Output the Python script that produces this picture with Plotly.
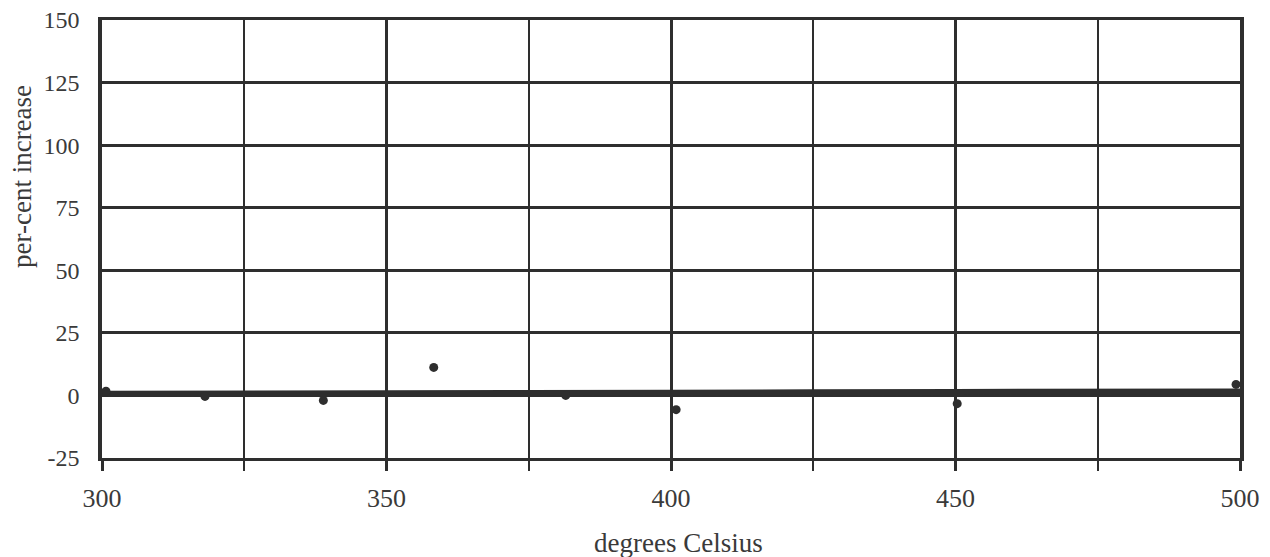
import plotly.graph_objects as go

# Data
temp_points = [300.7, 318.1, 338.9, 358.3, 381.5, 400.9, 450.3, 499.3]
pct_points = [1.7, -0.4, -2.0, 11.2, 0.0, -5.7, -3.3, 4.4]

trend_x = [300, 350, 400, 450, 500]
trend_y = [0.7, 0.9, 1.1, 1.4, 1.6]

x_tickvals = [300, 350, 400, 450, 500]
x_ticktext = ["300", "350", "400", "450", "500"]
y_tickvals = [-25, 0, 25, 50, 75, 100, 125, 150]
y_ticktext = ["-25", "0", "25", "50", "75", "100", "125", "150"]

INK = "#2e2e2e"
TXT = "#3a3a3a"
FONT = "Liberation Serif, Times New Roman, serif"

fig = go.Figure()
fig.add_trace(go.Scatter(x=trend_x, y=trend_y, mode="lines",
                         line=dict(color=INK, width=6, shape="spline"),
                         showlegend=False, hoverinfo="skip"))
fig.add_trace(go.Scatter(x=temp_points, y=pct_points, mode="markers",
                         marker=dict(color=INK, size=9),
                         showlegend=False))

L, R, T, B = 102, 30, 20, 99
W, H = 1270, 557
plot_w = W - L - R
plot_h = H - T - B

def px_to_paper(px, py):
    return (px - L) / plot_w, (H - B - py) / plot_h

ax, ay = px_to_paper(678, 543)
bx, by = px_to_paper(22, 177)

fig.update_layout(
    width=W, height=H,
    margin=dict(l=L, r=R, t=T, b=B, autoexpand=False),
    paper_bgcolor="white", plot_bgcolor="white",
    font=dict(family=FONT, color=TXT),
    xaxis=dict(range=[300, 500], tickvals=x_tickvals, ticktext=x_ticktext,
               showgrid=True, gridcolor=INK, gridwidth=3,
               showline=True, linecolor=INK, linewidth=3, mirror=True,
               ticks="outside", ticklen=10, tickwidth=3, tickcolor=INK,
               ticklabelstandoff=5,
               tickfont=dict(size=26, family=FONT, color=TXT),
               minor=dict(dtick=25, tick0=300, showgrid=True, gridcolor=INK, gridwidth=1.5,
                          ticks="outside", ticklen=10, tickwidth=1.5, tickcolor=INK),
               zeroline=False),
    yaxis=dict(range=[-25, 150], tickvals=y_tickvals, ticktext=y_ticktext,
               showgrid=True, gridcolor=INK, gridwidth=2.5,
               showline=True, linecolor=INK, linewidth=3.5, mirror=True,
               ticks="", ticklabelstandoff=14,
               tickfont=dict(size=24, family=FONT, color=TXT),
               zeroline=False),
    annotations=[
        dict(text="degrees Celsius", x=ax, y=ay, xref="paper", yref="paper",
             xanchor="center", yanchor="middle",
             showarrow=False, font=dict(size=27, family=FONT, color=TXT)),
        dict(text="per-cent increase", x=bx, y=by, xref="paper", yref="paper",
             xanchor="center", yanchor="middle",
             textangle=-90, showarrow=False,
             font=dict(size=27, family=FONT, color=TXT)),
    ],
)

fig.write_html("out.html", config={"displayModeBar": False},
               post_script="document.body.style.margin='0';")
